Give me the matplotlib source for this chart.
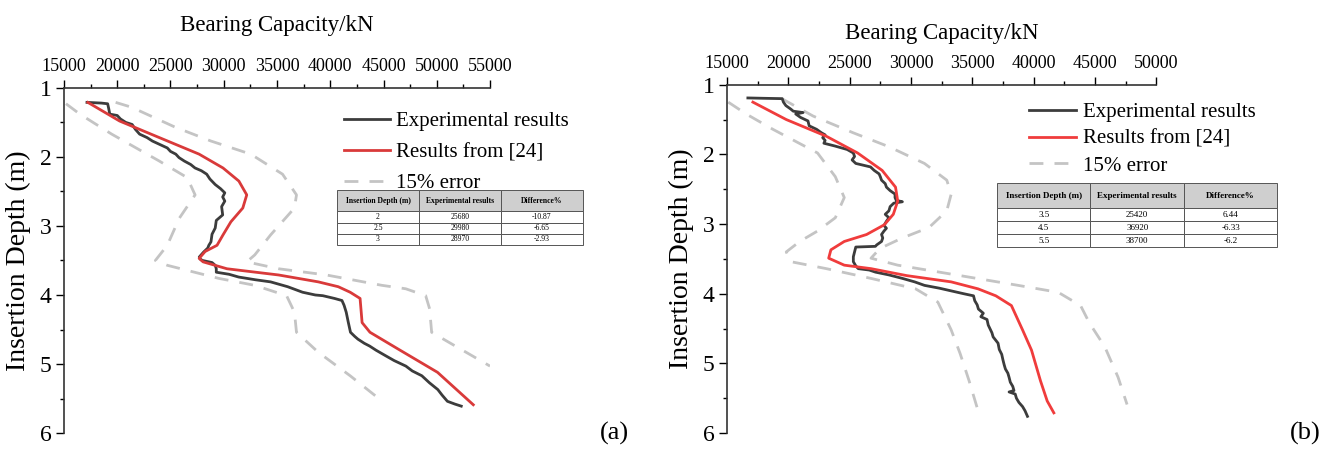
import numpy as np
import matplotlib
matplotlib.use("Agg")
import matplotlib.pyplot as plt
from matplotlib.ticker import MultipleLocator

plt.rcParams['font.family'] = 'serif'
plt.rcParams['font.serif'] = ['Liberation Serif', 'DejaVu Serif']

# ---------------- panel (a) data ----------------
exp_a_depth = [1.21, 1.22, 1.23, 1.30, 1.38, 1.40, 1.45, 1.50, 1.53, 1.60, 1.67, 1.72, 1.77,
               1.82, 1.87, 1.92, 1.96, 2.01, 2.06, 2.11, 2.16, 2.20, 2.25, 2.32, 2.40, 2.46,
               2.52, 2.58, 2.64, 2.72, 2.84, 2.92, 3.03, 3.12, 3.23, 3.28, 3.32, 3.38, 3.45,
               3.48, 3.50, 3.53, 3.57, 3.62, 3.67, 3.70, 3.74, 3.78, 3.81, 3.88, 3.96, 4.00,
               4.01, 4.05, 4.08, 4.15, 4.25, 4.40, 4.54, 4.60, 4.64, 4.70, 4.74, 4.80, 4.88,
               4.95, 5.03, 5.10, 5.17, 5.27, 5.37, 5.45, 5.54, 5.58, 5.61]
exp_a_load = [17160, 18500, 19100, 19200, 19300, 20000, 20300, 20800, 21400, 21700, 22100, 22800,
              23300, 24000, 24700, 25000, 25500, 25800, 26300, 26900, 27300, 27900, 28400, 28700,
              29200, 29700, 30100, 29900, 30100, 29800, 29900, 29300, 29200, 28900, 28800, 28600,
              28500, 28100, 27700, 27800, 28000, 28900, 29200, 29300, 29300, 30500, 31400, 33000,
              34400, 36000, 37400, 38600, 39300, 40400, 41100, 41300, 41500, 41700, 41900, 42300,
              42600, 43200, 43700, 44300, 45200, 46000, 47100, 47700, 48600, 49300, 50100, 50500,
              51000, 51700, 52300]

ref_a_depth = [1.21, 1.48, 1.72, 1.96, 2.16, 2.35, 2.55, 2.74, 2.94, 3.13, 3.28, 3.37, 3.47,
               3.52, 3.62, 3.71, 3.81, 3.88, 3.96, 4.05, 4.40, 4.54, 4.78, 5.12, 5.59]
ref_a_load = [17240, 20220, 23950, 27690, 29930, 31420, 32160, 31790, 30670, 29930, 29370, 28250,
              27690, 28060, 30300, 35150, 38880, 40750, 41870, 42800, 42990, 43730, 46340, 50070,
              53430]

up_a_depth = [1.21, 1.28, 1.57, 1.77, 1.96, 2.25, 2.55, 2.74, 3.13, 3.42, 3.52, 3.62, 3.71,
              3.86, 3.91, 4.01, 4.20, 4.54, 4.69, 5.03]
up_a_load = [19850, 21340, 25450, 28800, 32540, 35520, 36830, 36640, 34400, 32910, 32160, 35150,
             39630, 44850, 47090, 48960, 49330, 49520, 51190, 55000]

lo_a_depth = [1.23, 1.38, 1.67, 2.06, 2.30, 2.55, 2.89, 3.28, 3.50, 3.57, 3.76, 3.86, 4.01,
              4.25, 4.54, 4.83, 5.17, 5.49]
lo_a_load = [15190, 16490, 19480, 23950, 26570, 27310, 25820, 24700, 23580, 24700, 29550, 32910,
             35900, 36640, 36830, 38880, 41870, 44480]

table_a_rows = [["2", "25680", "-10.87"], ["2.5", "29980", "-6.65"], ["3", "28970", "-2.93"]]

# ---------------- panel (b) data ----------------
exp_b_depth = [1.19, 1.195, 1.20, 1.25, 1.30, 1.35, 1.38, 1.40, 1.42, 1.47, 1.52, 1.59, 1.64,
               1.69, 1.72, 1.76, 1.80, 1.84, 1.88, 1.93, 1.98, 2.03, 2.08, 2.13, 2.18, 2.23,
               2.28, 2.32, 2.37, 2.42, 2.47, 2.52, 2.57, 2.62, 2.66, 2.68, 2.70, 2.75, 2.81,
               2.86, 2.91, 2.96, 3.02, 3.06, 3.10, 3.15, 3.20, 3.25, 3.30, 3.32, 3.33, 3.40,
               3.47, 3.54, 3.60, 3.64, 3.66, 3.69, 3.73, 3.78, 3.83, 3.88, 3.92, 3.96, 4.00,
               4.03, 4.10, 4.16, 4.22, 4.28, 4.33, 4.37, 4.45, 4.56, 4.62, 4.71, 4.80, 4.87,
               4.95, 5.02, 5.08, 5.14, 5.20, 5.27, 5.33, 5.39, 5.41, 5.44, 5.50, 5.56, 5.62,
               5.68, 5.72, 5.76]
exp_b_load = [16700, 18000, 19500, 19600, 19800, 20200, 20400, 21200, 20600, 21000, 21600, 21700,
              22300, 22700, 23000, 22800, 23000, 22900, 23800, 24800, 25300, 25400, 25200, 25500,
              26700, 27000, 27400, 27500, 27600, 27900, 28000, 28300, 28700, 28700, 28800, 29300,
              28600, 28300, 28200, 27900, 28200, 28000, 27800, 28000, 27800, 27600, 27700, 27600,
              27200, 27100, 25500, 25400, 25300, 25300, 25500, 25700, 26600, 27100, 28200, 29300,
              30300, 31100, 32300, 33300, 34300, 35100, 35200, 35400, 35500, 35900, 35700, 36200,
              36300, 36600, 36700, 37100, 37200, 37400, 37500, 37600, 37700, 37900, 38000, 38100,
              38300, 38400, 38000, 38500, 38600, 38800, 39100, 39300, 39400, 39500]

ref_b_depth = [1.25, 1.50, 1.74, 1.98, 2.23, 2.47, 2.67, 2.86, 3.01, 3.15, 3.25, 3.37, 3.49,
               3.59, 3.64, 3.74, 3.83, 3.93, 4.03, 4.17, 4.52, 4.81, 5.25, 5.54, 5.71]
ref_b_load = [17110, 19830, 23100, 25650, 27650, 28740, 28920, 28560, 27830, 26380, 24560, 23470,
              23290, 24560, 26740, 29650, 33280, 35470, 36920, 38190, 39100, 39830, 40560, 41110,
              41650]

up_b_depth = [1.20, 1.45, 1.69, 1.89, 2.13, 2.37, 2.57, 2.81, 3.05, 3.20, 3.35, 3.49, 3.59,
              3.74, 3.88, 3.98, 4.17, 4.42, 4.76, 5.20, 5.59]
up_b_load = [19470, 22020, 25290, 28200, 31100, 32920, 33280, 32920, 31470, 29290, 27470, 26740,
             28920, 34010, 38740, 42010, 43830, 44550, 45800, 46890, 47620]

lo_b_depth = [1.25, 1.42, 1.64, 1.98, 2.32, 2.62, 2.91, 3.10, 3.25, 3.40, 3.54, 3.64, 3.78,
              3.93, 4.12, 4.52, 4.86, 5.25, 5.68]
lo_b_load = [15100, 16560, 18740, 22380, 23830, 24560, 23830, 22380, 20930, 19830, 20200, 23100,
             26740, 30380, 32190, 33280, 34010, 34740, 35470]

table_b_rows = [["3.5", "25420", "6.44"], ["4.5", "36920", "-6.33"], ["5.5", "38700", "-6.2"]]

table_cols = ["Insertion Depth (m)", "Experimental results", "Difference%"]


def draw_panel(ax, exp, ref, up, lo, xmax, red, rows, tab_box, tab_fs,
               leg_anchor, leg_space, leg_hl, title_pad, tag_x, tag):
    ax.plot(up[1], up[0], color='#c4c4c4', lw=2, dashes=(5, 4), zorder=1)
    ax.plot(lo[1], lo[0], color='#c4c4c4', lw=2, dashes=(5, 4), zorder=1, label='15% error')
    ax.plot(exp[1], exp[0], color='#3c3c3c', lw=2, zorder=2, label='Experimental results')
    ax.plot(ref[1], ref[0], color=red, lw=2, zorder=3, label='Results from [24]')

    ax.set_xlim(15000, xmax)
    ax.set_ylim(6, 1)
    ax.xaxis.tick_top()
    ax.xaxis.set_label_position('top')
    ax.set_xlabel('Bearing Capacity/kN', fontsize=16.5, labelpad=title_pad)
    ax.set_ylabel('Insertion Depth (m)', fontsize=20, labelpad=6)
    ax.xaxis.set_major_locator(MultipleLocator(5000))
    ax.xaxis.set_minor_locator(MultipleLocator(2500))
    ax.yaxis.set_major_locator(MultipleLocator(1))
    ax.yaxis.set_minor_locator(MultipleLocator(0.5))
    ax.tick_params(axis='x', which='major', labelsize=13, length=6, width=1, pad=3)
    ax.tick_params(axis='y', which='major', labelsize=17, length=6, width=1, pad=3)
    ax.tick_params(which='minor', length=3, width=1)
    for s in ['right', 'bottom']:
        ax.spines[s].set_visible(False)
    for s in ['left', 'top']:
        ax.spines[s].set_linewidth(1.2)
        ax.spines[s].set_color('#333333')

    handles, labels = ax.get_legend_handles_labels()
    order = [1, 2, 0]
    ax.legend([handles[i] for i in order], [labels[i] for i in order], frameon=False,
              fontsize=15, loc='upper left', bbox_to_anchor=leg_anchor, handlelength=leg_hl,
              handletextpad=0.3, labelspacing=leg_space, borderaxespad=0)

    tab = ax.table(cellText=rows, colLabels=table_cols, cellLoc='center', bbox=tab_box)
    tab.auto_set_font_size(False)
    for (r, c), cell in tab.get_celld().items():
        cell.set_edgecolor('#555555')
        cell.set_linewidth(0.7)
        cell.get_text().set_fontsize(tab_fs)
        if r == 0:
            cell.set_facecolor('#cfcfcf')
            cell.set_height(cell.get_height() * 1.9)
            cell.get_text().set_fontweight('bold')
    tab.set_clip_on(False)

    ax.text(tag_x, -0.035, tag, transform=ax.transAxes, fontsize=19, ha='center', va='bottom')


fig = plt.figure(figsize=(13.33, 4.53), dpi=100)
ax_a = fig.add_axes([0.048, 0.044, 0.3196, 0.762])
ax_b = fig.add_axes([0.5454, 0.044, 0.322, 0.769])

draw_panel(ax_a, (exp_a_depth, exp_a_load), (ref_a_depth, ref_a_load),
           (up_a_depth, up_a_load), (lo_a_depth, lo_a_load), 55000, '#d93a3a',
           table_a_rows, [0.641, 0.545, 0.577, 0.159], 5.5, (0.638, 0.955), 0.55, 2.2, 20,
           1.293, '(a)')
draw_panel(ax_b, (exp_b_depth, exp_b_load), (ref_b_depth, ref_b_load),
           (up_b_depth, up_b_load), (lo_b_depth, lo_b_load), 50000, '#f03c3c',
           table_b_rows, [0.629, 0.534, 0.653, 0.183], 6.5, (0.683, 0.973), 0.35, 2.3, 12,
           1.347, '(b)')

fig.savefig('out.png', dpi=100)
